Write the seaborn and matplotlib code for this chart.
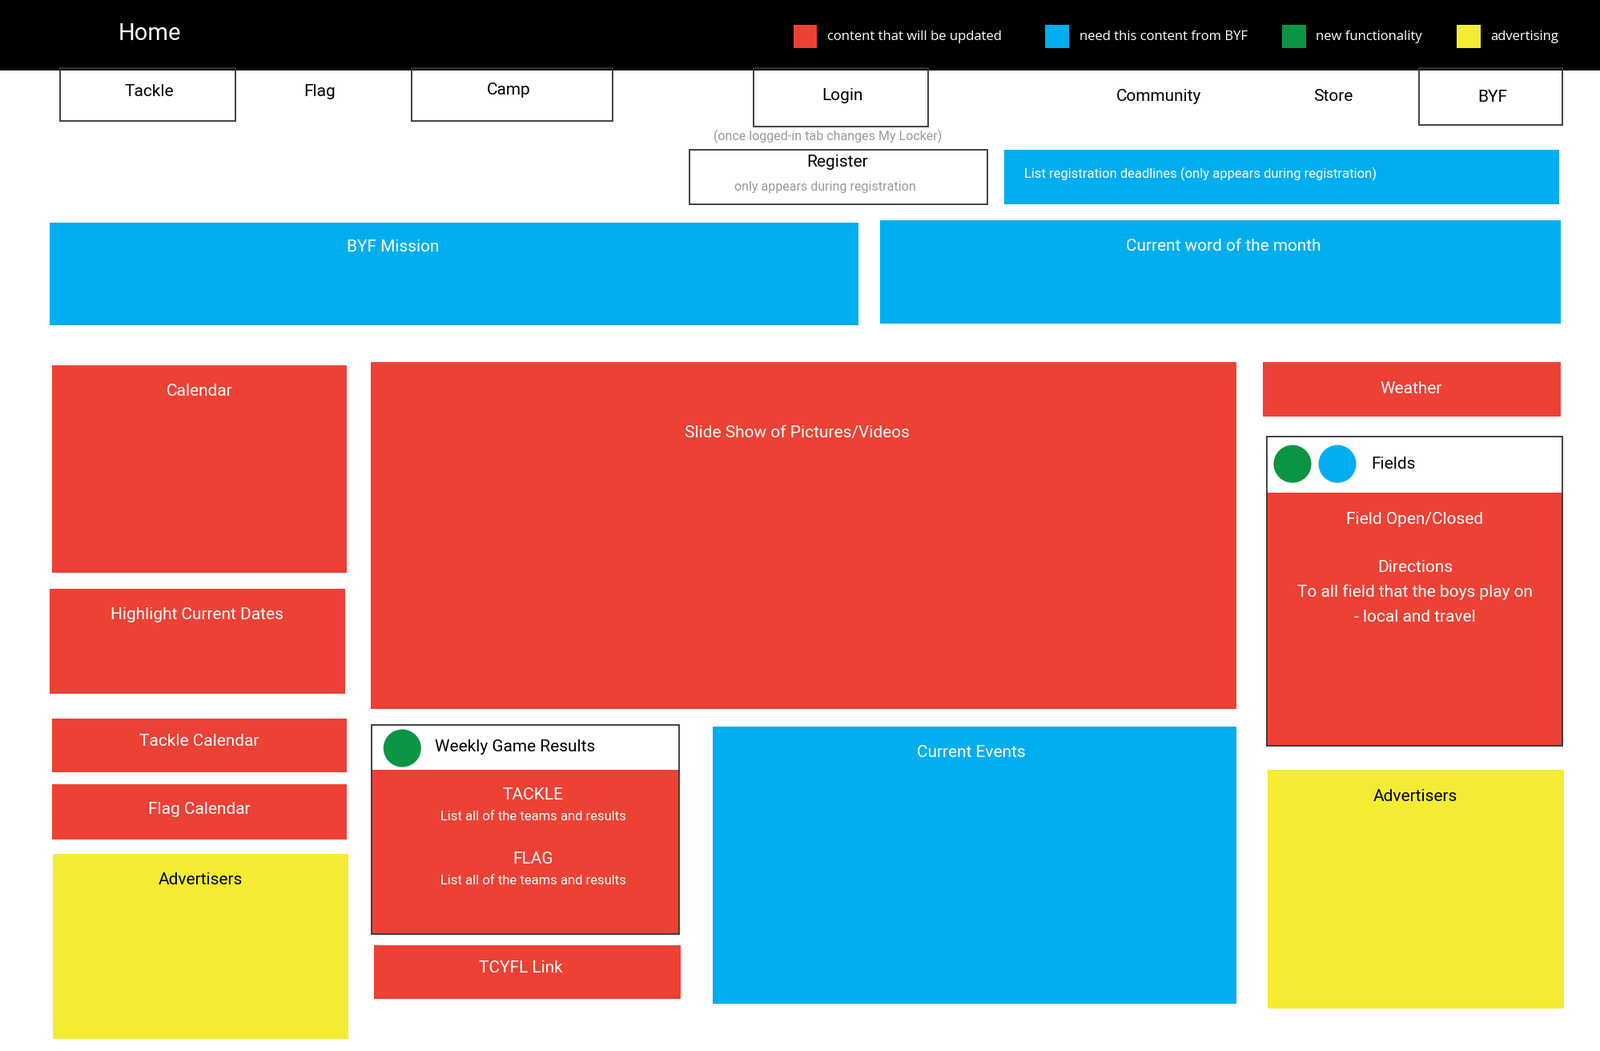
import matplotlib
matplotlib.use("Agg")
import matplotlib.pyplot as plt
import seaborn as sns

sns.set_theme(style="white", rc={"font.family": "Roboto"})

RED, BLUE, GREEN, YEL = "#EC4134", "#00AEEF", "#0B9444", "#F4EC33"

# filled blocks: x0, y0, x1, y1, colour
blk_x0 = [0, 984, 49, 862, 51, 363, 1237, 1241, 49, 51, 51, 52, 364, 366, 698, 1242, 1241, 364]
blk_y0 = [0, 146, 217, 215, 356, 353, 353, 480, 574, 700, 764, 832, 750, 921, 708, 750, 425, 706]
blk_x1 = [1568, 1527, 841, 1529, 340, 1211, 1529, 1530, 338, 340, 340, 341, 665, 667, 1211, 1532, 1530, 665]
blk_y1 = [69, 199, 317, 315, 558, 691, 406, 727, 676, 752, 818, 1012, 910, 973, 978, 983, 480, 750]
blk_col = ["black", BLUE, BLUE, BLUE, RED, RED, RED, RED, RED, RED, RED, YEL, RED, RED, BLUE, YEL, "white", "white"]

# outlined boxes
out_x0 = [59, 403, 738, 1390, 675, 1241, 364]
out_y0 = [66, 66, 66, 66, 146, 425, 706]
out_x1 = [231, 600, 909, 1530, 967, 1530, 665]
out_y1 = [118, 118, 123, 122, 199, 727, 910]

# texts: x, y, text, colour, size, ha
txt = [
    (116, 33, "Home", "white", 21, "left"),
    (146, 89, "Tackle", "black", 15, "center"),
    (313, 89, "Flag", "black", 15, "center"),
    (498, 88, "Camp", "black", 15, "center"),
    (825, 93, "Login", "black", 15, "center"),
    (1135, 94, "Community", "black", 15, "center"),
    (1306, 94, "Store", "black", 15, "center"),
    (1462, 95, "BYF", "black", 15, "center"),
    (811, 133, "(once logged-in tab changes My Locker)", "#999999", 11.5, "center"),
    (820, 158, "Register", "black", 15, "center"),
    (808, 182, "only appears during registration", "#999999", 11.5, "center"),
    (1003, 170, "List registration deadlines (only appears during registration)", "white", 12, "left"),
    (385, 241, "BYF Mission", "white", 15, "center"),
    (1198, 240, "Current word of the month", "white", 15, "center"),
    (195, 381, "Calendar", "white", 15, "center"),
    (781, 422, "Slide Show of Pictures/Videos", "white", 15, "center"),
    (1382, 379, "Weather", "white", 15, "center"),
    (1343, 452, "Fields", "black", 15, "left"),
    (1386, 506, "Field Open/Closed", "white", 15, "center"),
    (1386, 553, "Directions", "white", 15, "center"),
    (1386, 577, "To all field that the boys play on", "white", 15, "center"),
    (1386, 601, "- local and travel", "white", 15, "center"),
    (193, 599, "Highlight Current Dates", "white", 15, "center"),
    (195, 722, "Tackle Calendar", "white", 15, "center"),
    (195, 789, "Flag Calendar", "white", 15, "center"),
    (196, 857, "Advertisers", "black", 15, "center"),
    (426, 728, "Weekly Game Results", "black", 15, "left"),
    (522, 775, "TACKLE", "white", 15, "center"),
    (522, 796, "List all of the teams and results", "white", 12, "center"),
    (522, 837, "FLAG", "white", 15, "center"),
    (522, 858, "List all of the teams and results", "white", 12, "center"),
    (510, 943, "TCYFL Link", "white", 15, "center"),
    (951, 733, "Current Events", "white", 15, "center"),
    (1386, 776, "Advertisers", "black", 15, "center"),
]

# legend
leg_x = [777, 1024, 1256, 1427]
leg_col = [RED, BLUE, GREEN, YEL]
leg_lab = ["content that will be updated", "need this content from BYF", "new functionality", "advertising"]

# dots
dot_x = [1266, 1310, 394]
dot_y = [452, 452, 729]
dot_col = [GREEN, BLUE, GREEN]

fig = plt.figure(figsize=(19.99, 13.12), dpi=100)
ax = fig.add_axes([0, 0, 1, 1])
ax.set_xlim(0, 1568)
ax.set_ylim(1024, 0)
ax.axis("off")

ax.bar([a for a in blk_x0], [b - a for a, b in zip(blk_y0, blk_y1)],
       width=[b - a for a, b in zip(blk_x0, blk_x1)], bottom=blk_y0,
       align="edge", color=blk_col, linewidth=0)
ax.bar(out_x0, [b - a for a, b in zip(out_y0, out_y1)],
       width=[b - a for a, b in zip(out_x0, out_x1)], bottom=out_y0,
       align="edge", facecolor="none", edgecolor="#333333", linewidth=1.3)
ax.bar(leg_x, [23] * 4, width=[23] * 4, bottom=[24] * 4, align="edge",
       color=leg_col, linewidth=0)
for x, lab in zip(leg_x, leg_lab):
    ax.text(x + 33, 36, lab, color="white", fontsize=12, va="center",
            ha="left", family="Open Sans")
ax.scatter(dot_x, dot_y, s=1150, c=dot_col, linewidths=0, zorder=3)
for x, y, s, c, fs, ha in txt:
    ax.text(x, y, s, color=c, fontsize=fs, ha=ha, va="center")

fig.savefig("out.png", dpi=100)
